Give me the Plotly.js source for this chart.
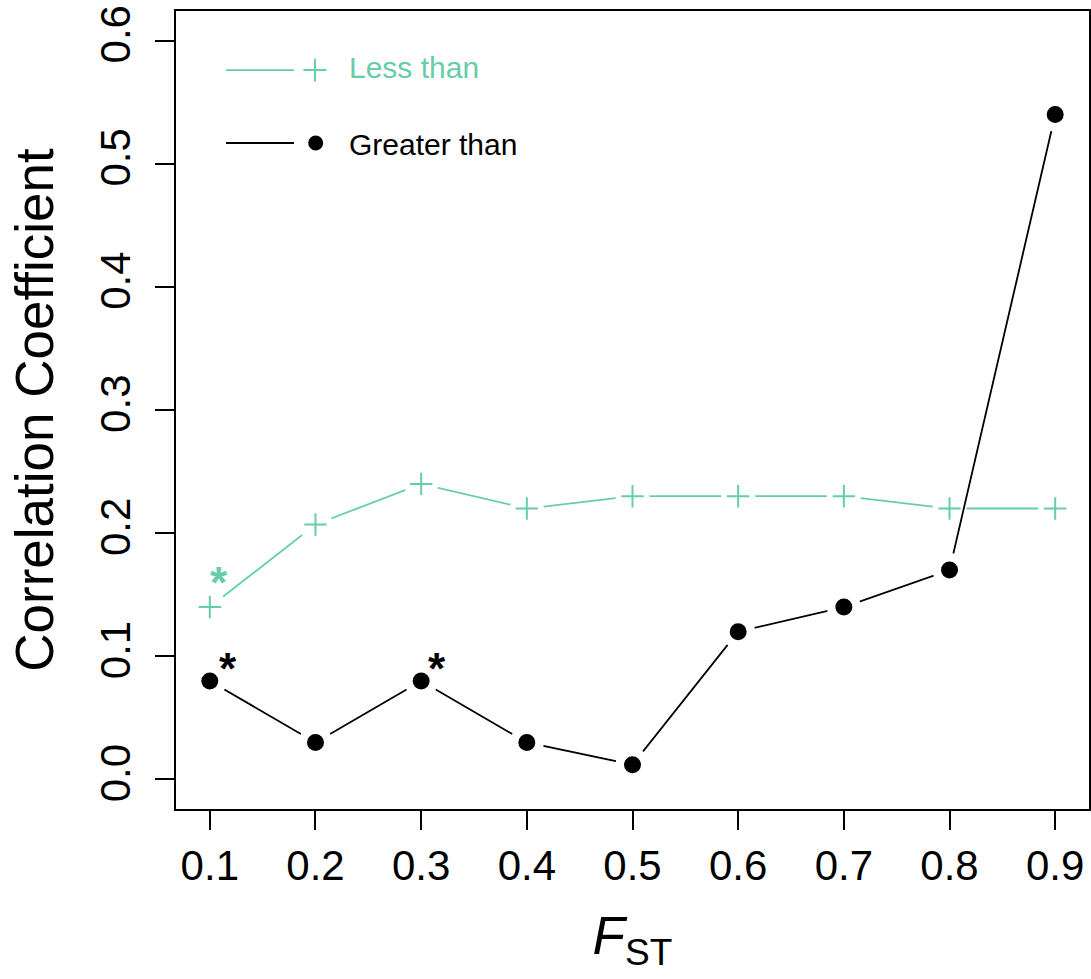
<!DOCTYPE html>
<html>
<head>
<meta charset="utf-8">
<script src="https://cdn.plot.ly/plotly-3.0.1.min.js"></script>
<style>
  html, body { margin: 0; padding: 0; background: #ffffff; }
  #chart { width: 1091px; height: 979px; }
</style>
</head>
<body>
<div id="chart"></div>
<script>
// F_ST thresholds and the correlation coefficients for each subset
const fst = [0.1, 0.2, 0.3, 0.4, 0.5, 0.6, 0.7, 0.8, 0.9];
const lessThan = [0.140, 0.207, 0.240, 0.220, 0.230, 0.230, 0.230, 0.220, 0.220];
const greaterThan = [0.080, 0.030, 0.080, 0.030, 0.012, 0.120, 0.140, 0.170, 0.540];

// indices of significant correlations (marked with an asterisk)
const sigLess = [0];
const sigGreater = [0, 2];

const yTicks = [0.0, 0.1, 0.2, 0.3, 0.4, 0.5, 0.6];
const yTickText = ['0.0', '0.1', '0.2', '0.3', '0.4', '0.5', '0.6'];
const xTickText = ['0.1', '0.2', '0.3', '0.4', '0.5', '0.6', '0.7', '0.8', '0.9'];

const GREEN = '#66CDAA';
const BLACK = '#000000';
const FONT = 'Liberation Sans, Arial, Helvetica, sans-serif';

// one series drawn as line, white gap discs (so the line stops short of each point), then symbols
function seriesTraces(y, color, symbol, size, lineW) {
  return [
    { x: fst, y: y, type: 'scatter', mode: 'lines', line: { color: color, width: lineW },
      hoverinfo: 'skip', showlegend: false },
    { x: fst, y: y, type: 'scatter', mode: 'markers',
      marker: { symbol: 'circle', size: 34, color: '#ffffff', line: { width: 0 } },
      hoverinfo: 'skip', showlegend: false },
    { x: fst, y: y, type: 'scatter', mode: 'markers',
      marker: { symbol: symbol, size: size, color: color, line: { color: color, width: 2 } },
      showlegend: false }
  ];
}

const traces = [].concat(
  seriesTraces(lessThan, GREEN, 'cross-thin-open', 16, 1.8),
  seriesTraces(greaterThan, BLACK, 'circle', 15, 1.8)
);

function starNote(x, y, color, dx, dy, bold) {
  return { x: x, y: y, xref: 'x', yref: 'y', text: bold ? '<b>*</b>' : '*', showarrow: false,
    xanchor: 'center', yanchor: 'middle', xshift: dx, yshift: dy,
    font: { family: FONT, size: 44, color: color } };
}

const annotations = [];
sigLess.forEach(i => annotations.push(starNote(fst[i], lessThan[i], GREEN, 9, 25, true)));
sigGreater.forEach((i, k) => annotations.push(starNote(fst[i], greaterThan[i], BLACK, k === 0 ? 18 : 16, 12, true)));

// hand-built key in the upper left corner
const keyItems = [
  { label: 'Less than', color: GREEN, y: 0.926, kind: 'plus', textShift: 3 },
  { label: 'Greater than', color: BLACK, y: 0.8346, kind: 'dot', textShift: -2 }
];
const shapes = [];
keyItems.forEach(it => {
  shapes.push({ type: 'line', xref: 'paper', yref: 'paper', x0: 0.0548, x1: 0.1292, y0: it.y, y1: it.y,
    line: { color: it.color, width: 1.8 } });
  if (it.kind === 'plus') {
    shapes.push({ type: 'line', xref: 'paper', yref: 'paper', xsizemode: 'pixel', ysizemode: 'pixel',
      xanchor: 0.1522, yanchor: it.y, x0: -11.5, x1: 11.5, y0: 0, y1: 0, line: { color: it.color, width: 2 } });
    shapes.push({ type: 'line', xref: 'paper', yref: 'paper', xsizemode: 'pixel', ysizemode: 'pixel',
      xanchor: 0.1522, yanchor: it.y, x0: 0, x1: 0, y0: -11.5, y1: 11.5, line: { color: it.color, width: 2 } });
  } else {
    shapes.push({ type: 'circle', xref: 'paper', yref: 'paper', xsizemode: 'pixel', ysizemode: 'pixel',
      xanchor: 0.1530, yanchor: it.y, x0: -7.5, x1: 7.5, y0: -7.5, y1: 7.5,
      fillcolor: it.color, line: { color: it.color, width: 0 } });
  }
  annotations.push({ xref: 'paper', yref: 'paper', x: 0.1875, y: it.y, yshift: it.textShift, text: it.label,
    showarrow: false, xanchor: 'left', yanchor: 'middle', font: { family: FONT, size: 30, color: it.color } });
});

const layout = {
  width: 1091, height: 979,
  margin: { l: 176, r: 2, t: 11, b: 170, pad: 0 },
  paper_bgcolor: '#ffffff', plot_bgcolor: '#ffffff',
  font: { family: FONT, color: '#000000' },
  showlegend: false,
  xaxis: {
    range: [0.068, 0.932], tickmode: 'array', tickvals: fst, ticktext: xTickText,
    ticks: 'outside', ticklen: 19, tickwidth: 2, tickcolor: '#000',
    showline: true, linecolor: '#000', linewidth: 2, mirror: true,
    showgrid: false, zeroline: false,
    tickfont: { family: FONT, size: 42, color: '#000' },
    title: { text: '<i>F</i><sub>ST</sub>', font: { family: FONT, size: 53, color: '#000' }, standoff: 28 }
  },
  yaxis: {
    range: [-0.024, 0.624], tickmode: 'array', tickvals: yTicks, ticktext: yTickText,
    ticks: 'outside', ticklen: 19, tickwidth: 2, tickcolor: '#000', tickangle: -90,
    ticklabelstandoff: 8,
    showline: true, linecolor: '#000', linewidth: 2, mirror: true,
    showgrid: false, zeroline: false,
    tickfont: { family: FONT, size: 42, color: '#000' },
    title: { text: 'Correlation Coefficient', font: { family: FONT, size: 53, color: '#000' }, standoff: 22 }
  },
  shapes: shapes,
  annotations: annotations
};

Plotly.newPlot('chart', traces, layout, { displayModeBar: false, staticPlot: true });
</script>
</body>
</html>
